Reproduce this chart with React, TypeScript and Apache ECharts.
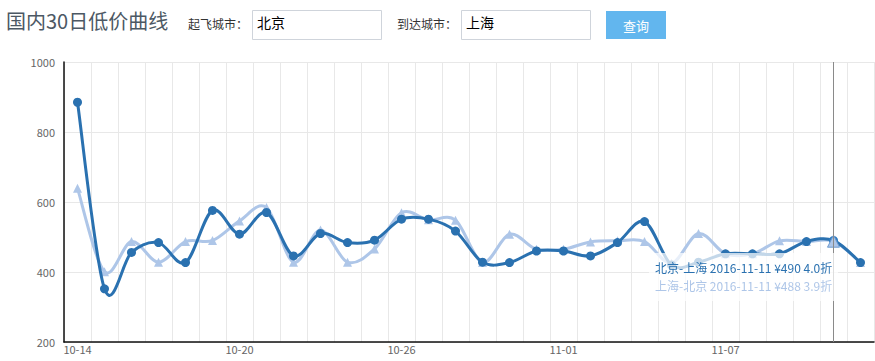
import React, { useEffect, useRef } from "react";
import * as echarts from "echarts";

const categories = [
  "10-14", "10-15", "10-16", "10-17", "10-18", "10-19", "10-20", "10-21", "10-22", "10-23",
  "10-24", "10-25", "10-26", "10-27", "10-28", "10-29", "10-30", "10-31", "11-01", "11-02",
  "11-03", "11-04", "11-05", "11-06", "11-07", "11-08", "11-09", "11-10", "11-11", "11-12",
];
const bjToSh = [
  885, 352, 456, 484, 427, 576, 508, 570, 446, 510,
  484, 491, 551, 551, 517, 428, 427, 460, 460, 446,
  484, 544, 420, 428, 452, 452, 452, 487, 490, 427,
];
const shToBj = [
  639, 401, 487, 428, 487, 490, 546, 584, 428, 520,
  428, 466, 569, 549, 548, 427, 508, 465, 465, 486,
  489, 487, 425, 510, 452, 452, 489, 487, 488, 427,
];
const yTicks = [200, 400, 600, 800, 1000];
const fullFare = 1240;
const year = "2016";
const hoverIndex = 28;

const FONT = '"Noto Sans CJK SC", "Noto Sans", sans-serif';
const DARK = "#2a71b0";
const LIGHT = "#aec6e8";

function splineSeries(name: string, values: number[], color: string, z: number) {
  return {
    name,
    type: "custom",
    silent: true,
    z,
    tooltip: { show: false },
    data: values.map((v, i) => [i, v]),
    renderItem: (params: any, api: any) => {
      if (params.dataIndex !== 0) return null;
      const pts = values.map((v, i) => api.coord([i, v]));
      const n = pts.length;
      let d = `M${pts[0][0]},${pts[0][1]}`;
      for (let i = 0; i < n - 1; i++) {
        const p0 = pts[Math.max(i - 1, 0)];
        const p1 = pts[i];
        const p2 = pts[i + 1];
        const p3 = pts[Math.min(i + 2, n - 1)];
        const c1x = p1[0] + (p2[0] - p0[0]) / 6;
        const c1y = p1[1] + (p2[1] - p0[1]) / 6;
        const c2x = p2[0] - (p3[0] - p1[0]) / 6;
        const c2y = p2[1] - (p3[1] - p1[1]) / 6;
        d += ` C${c1x},${c1y} ${c2x},${c2y} ${p2[0]},${p2[1]}`;
      }
      return {
        type: "path",
        shape: { pathData: d },
        style: { fill: "none", stroke: color, lineWidth: 3, lineJoin: "round", lineCap: "round" },
      };
    },
  };
}

export default function App() {
  const ref = useRef<HTMLDivElement>(null);
  useEffect(() => {
    if (!ref.current) return;
    const chart = echarts.init(ref.current, null, { renderer: "svg" });
    const disc = (v: number) => ((v / fullFare) * 10).toFixed(1);
    chart.setOption({
      animation: false,
      textStyle: { fontFamily: FONT },
      grid: { left: 64, right: 1, top: 62, bottom: 19, containLabel: false },
      graphic: [
        { type: "text", left: 6, top: 10, style: { text: "国内30日低价曲线", font: `20px ${FONT}`, fill: "#4c5864" } },
        { type: "text", left: 188, top: 17, style: { text: "起飞城市：", font: `12px ${FONT}`, fill: "#333" } },
        { type: "rect", shape: { x: 252.5, y: 10.5, width: 129, height: 29 }, style: { fill: "#fff", stroke: "#cfd4db", lineWidth: 1 } },
        { type: "text", left: 257, top: 15, style: { text: "北京", font: `14px ${FONT}`, fill: "#000" } },
        { type: "text", left: 397, top: 17, style: { text: "到达城市：", font: `12px ${FONT}`, fill: "#333" } },
        { type: "rect", shape: { x: 461.5, y: 10.5, width: 129, height: 29 }, style: { fill: "#fff", stroke: "#cfd4db", lineWidth: 1 } },
        { type: "text", left: 466, top: 15, style: { text: "上海", font: `14px ${FONT}`, fill: "#000" } },
        { type: "rect", shape: { x: 606, y: 11, width: 60, height: 28 }, style: { fill: "#62b6ee" } },
        { type: "text", x: 636, y: 25, style: { text: "查询", font: `13px ${FONT}`, fill: "#fff", align: "center", verticalAlign: "middle" } },
      ],
      tooltip: {
        trigger: "axis",
        alwaysShowContent: true,
        transitionDuration: 0,
        backgroundColor: "rgba(255,255,255,0.72)",
        borderWidth: 0,
        padding: [6, 6],
        extraCssText: "box-shadow:none;border-radius:0;",
        position: () => [649, 253],
        axisPointer: { type: "line", lineStyle: { color: "#8a8a8a", width: 1, type: "solid" } },
        formatter: (params: any) => {
          const arr = Array.isArray(params) ? params : [params];
          const order = ["北京-上海", "上海-北京"];
          const sorted = order.map((n) => arr.find((p: any) => p.seriesName === n)).filter(Boolean);
          return sorted
            .map((p: any) => {
              const c = p.seriesName === "北京-上海" ? DARK : LIGHT;
              return `<div style="color:${c};font-size:12px;line-height:18px;font-family:${FONT.replace(/"/g, "'")}">${p.seriesName} ${year}-${p.name} ¥${p.value} ${disc(p.value)}折</div>`;
            })
            .join("");
        },
      },
      xAxis: {
        type: "category",
        data: categories,
        boundaryGap: true,
        axisLine: { lineStyle: { color: "#111", width: 1.5 } },
        axisTick: { show: false },
        axisLabel: { interval: 5, color: "#666", fontSize: 11, margin: 1 },
        splitLine: { show: true, interval: 0, lineStyle: { color: "#e8e8e8" } },
      },
      yAxis: {
        type: "value",
        min: yTicks[0],
        max: yTicks[yTicks.length - 1],
        interval: 200,
        axisLine: { show: true, lineStyle: { color: "#111", width: 1.5 } },
        axisTick: { show: false },
        axisLabel: { color: "#666", fontSize: 11, margin: 9, formatter: (v: number) => String(v) },
        splitLine: { show: true, lineStyle: { color: "#e8e8e8" } },
      },
      series: [
        splineSeries("上海-北京-curve", shToBj, LIGHT, 2),
        {
          name: "上海-北京",
          type: "line",
          data: shToBj,
          symbol: "triangle",
          symbolSize: 9,
          z: 3,
          lineStyle: { opacity: 0 },
          itemStyle: { color: LIGHT },
          emphasis: { scale: false },
          markPoint: {
            z: 10,
            silent: true,
            symbol: "triangle",
            symbolSize: 12,
            label: { show: false },
            itemStyle: { color: LIGHT, borderColor: "#6d9bd0", borderWidth: 1 },
            data: [{ coord: [hoverIndex, shToBj[hoverIndex]] }],
          },
        },
        splineSeries("北京-上海-curve", bjToSh, DARK, 4),
        {
          name: "北京-上海",
          type: "line",
          data: bjToSh,
          symbol: "circle",
          symbolSize: 9,
          z: 5,
          lineStyle: { opacity: 0 },
          itemStyle: { color: DARK },
          emphasis: { scale: false },
        },
      ],
    });
    chart.dispatchAction({ type: "showTip", seriesIndex: 3, dataIndex: hoverIndex });
    return () => chart.dispose();
  }, []);
  return (
    <div
      ref={ref}
      style={{ position: "absolute", left: 0, top: 0, width: 875, height: 361, background: "#fff" }}
    />
  );
}
